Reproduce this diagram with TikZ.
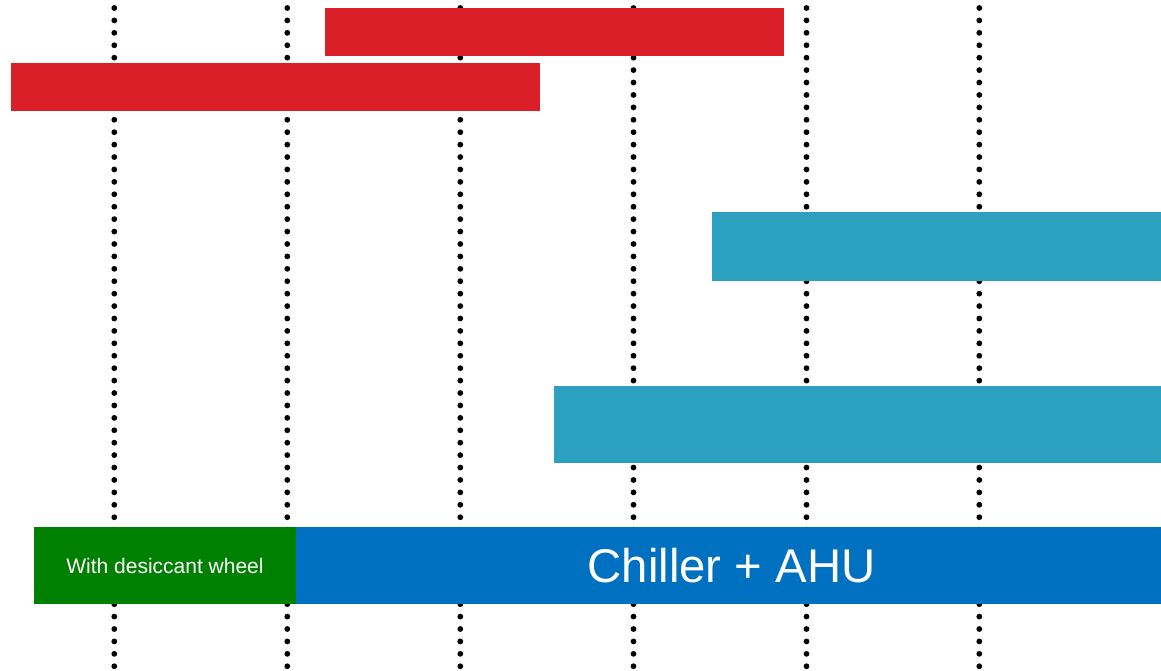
\documentclass[tikz,border=0pt]{standalone}
\usepackage{fontspec}
\setmainfont{Liberation Sans}
\definecolor{barred}{HTML}{DA1F28}
\definecolor{barteal}{HTML}{2CA1BF}
\definecolor{bargreen}{HTML}{008000}
\definecolor{barblue}{HTML}{0070C0}
\begin{document}
\begin{tikzpicture}[x=1pt,y=-1pt,
  bar/.style={anchor=north west, inner sep=0pt, outer sep=0pt, draw=none, text=white, align=center},
  dotline/.style={line width=5.8pt, line cap=round, dash pattern=on 0pt off 12.42pt, black}]
\useasboundingbox[fill=white] (0,0) rectangle (1161,671);
% dotted guides
\foreach \i/\x in {1/114.3,2/287.3,3/460.3,4/633.5,5/806.5,6/979.3}{
  \coordinate (t\i) at (\x,8);
  \coordinate (b\i) at (\x,666.4);
  \draw[dotline] (t\i) -- (b\i);
}
% bars
\node[bar, fill=barred, minimum width=459pt, minimum height=47.7pt] (red1) at (325,8) {};
\node[bar, fill=barred, minimum width=529pt, minimum height=47.7pt] (red2) at (11,63) {};
\node[bar, fill=barteal, minimum width=449pt, minimum height=69pt] (teal1) at (712,212) {};
\node[bar, fill=barteal, minimum width=607pt, minimum height=77pt] (teal2) at (554,386) {};
\node[bar, fill=bargreen, minimum width=262pt, minimum height=77pt, font=\fontsize{21}{25}\selectfont] (green) at (34,527) {With desiccant wheel};
\node[bar, fill=barblue, minimum width=865pt, minimum height=77pt, font=\fontsize{47.3}{56}\selectfont] (blue) at (296,527) {\hspace*{6pt}Chiller + AHU};
\end{tikzpicture}
\end{document}
